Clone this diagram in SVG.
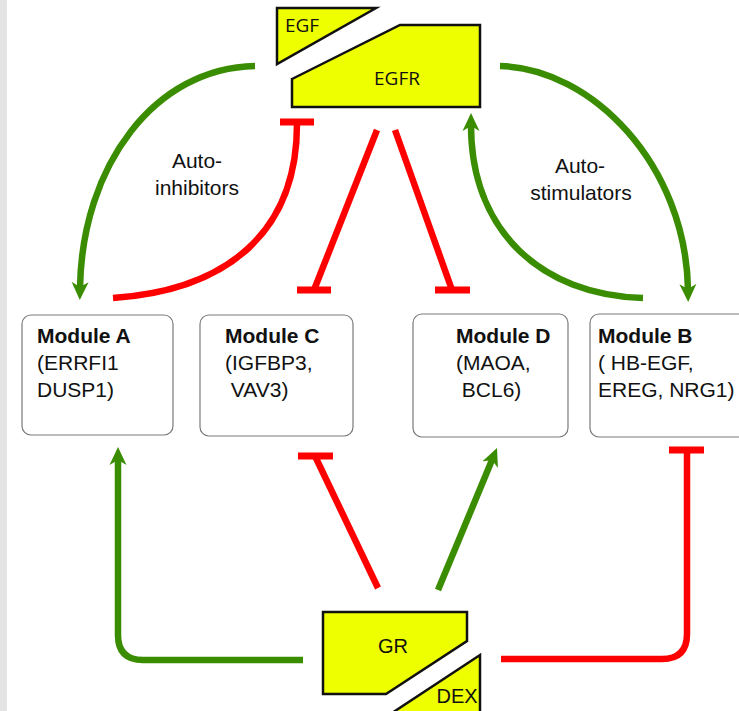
<svg xmlns="http://www.w3.org/2000/svg" width="739" height="711" viewBox="0 0 739 711">
<style>
.mod{fill:#fff;stroke:#7a7a7a;stroke-width:1.2}
.mt{font-family:"Liberation Sans",Arial,sans-serif;font-size:21px;fill:#111}
.b{font-weight:bold}
.lab{font-family:"Liberation Sans",Arial,sans-serif;font-size:21px;fill:#111;text-anchor:middle}
.shape{fill:#eeff00;stroke:#111;stroke-width:2.5;stroke-linejoin:miter}
.st{font-family:"Open Sans","Liberation Sans",sans-serif;font-size:19px;fill:#111;text-anchor:middle}
.sa{font-family:"Liberation Sans",Arial,sans-serif;font-size:20px;fill:#111;text-anchor:middle}
.g{fill:none;stroke:#3a8c00;stroke-width:6.5}
.r{fill:none;stroke:#ff0000;stroke-width:6.5}
.bar{stroke:#ff0000;stroke-width:7}
</style>
<defs>
<marker id="ah" markerUnits="userSpaceOnUse" viewBox="0 -9 19 18" refX="6" refY="0" markerWidth="19" markerHeight="18" orient="auto">
<path d="M0,-8.5 L18,0 L0,8.5 L5,0 Z" fill="#3a8c00"/>
</marker>
</defs>
<rect x="0" y="0" width="7" height="711" fill="#e4e4e4"/>

<g id="connectors">
<path class="g" d="M255,66 C155,68 82,165 80,288" marker-end="url(#ah)"/>
<path class="r" d="M113,298 C230,290 297,230 297,124"/>
<line class="bar" x1="280" y1="122" x2="314" y2="122"/>
<line class="r" x1="377" y1="130" x2="314" y2="290"/>
<line class="bar" x1="297" y1="290" x2="331" y2="290"/>
<line class="r" x1="395" y1="130" x2="452" y2="290"/>
<line class="bar" x1="435" y1="290" x2="470" y2="290"/>
<path class="g" d="M500,66 C592,68 686,165 688,290" marker-end="url(#ah)"/>
<path class="g" d="M643,298 C540,295 471,230 471,125" marker-end="url(#ah)"/>
<path class="g" d="M303,660 H143 Q118,660 118,635 V459" marker-end="url(#ah)"/>
<line class="g" x1="438" y1="590" x2="492.4" y2="459.1" marker-end="url(#ah)"/>
<line class="r" x1="378" y1="588" x2="315" y2="456"/>
<line class="bar" x1="298" y1="456" x2="333" y2="456"/>
<path class="r" d="M501,659 H662 Q687,659 687,634 V450"/>
<line class="bar" x1="669" y1="450" x2="704" y2="450"/>
<text class="lab" x="197" y="168">Auto-</text>
<text class="lab" x="197" y="195">inhibitors</text>
<text class="lab" x="580" y="173">Auto-</text>
<text class="lab" x="581" y="200">stimulators</text>
</g>

<g id="egf">
<polygon class="shape" points="277,8 376,8 277,64"/>
<text class="st" x="302" y="32">EGF</text>
</g>
<g id="egfr">
<polygon class="shape" points="292,79 400,25 480,25 480,107 292,107"/>
<text class="st" x="397" y="85">EGFR</text>
</g>

<g id="moduleA">
<rect class="mod" x="22" y="315" width="151" height="120" rx="9"/>
<text class="mt b" x="37" y="343">Module A</text>
<text class="mt" x="37" y="370">(ERRFI1</text>
<text class="mt" x="37" y="397">DUSP1)</text>
</g>
<g id="moduleC">
<rect class="mod" x="200" y="315" width="153" height="121" rx="9"/>
<text class="mt b" x="225" y="343">Module C</text>
<text class="mt" x="225" y="370">(IGFBP3,</text>
<text class="mt" x="225" y="397" xml:space="preserve"> VAV3)</text>
</g>
<g id="moduleD">
<rect class="mod" x="413" y="314" width="155" height="123" rx="9"/>
<text class="mt b" x="456" y="343">Module D</text>
<text class="mt" x="456" y="370">(MAOA,</text>
<text class="mt" x="456" y="397" xml:space="preserve"> BCL6)</text>
</g>
<g id="moduleB">
<rect class="mod" x="590" y="314" width="160" height="123" rx="9"/>
<text class="mt b" x="598" y="343">Module B</text>
<text class="mt" x="598" y="370" xml:space="preserve">( HB-EGF,</text>
<text class="mt" x="598" y="397">EREG, NRG1)</text>
</g>

<g id="gr">
<polygon class="shape" points="323,612 467,612 467,641 386,694 323,694"/>
<text class="sa" x="393" y="653">GR</text>
</g>
<g id="dex">
<polygon class="shape" points="480,655 480,713 392,713"/>
<text class="sa" x="457" y="703">DEX</text>
</g>
</svg>
